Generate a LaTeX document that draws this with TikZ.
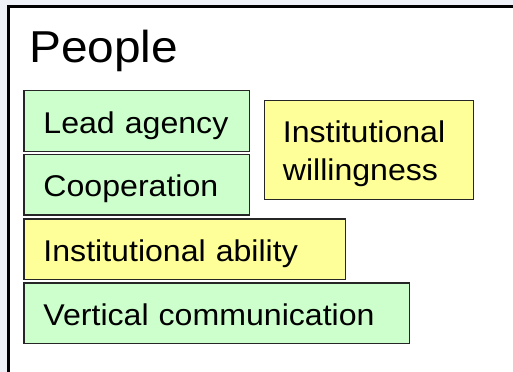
\documentclass[tikz,border=0pt]{standalone}
\usepackage{fontspec}
\setmainfont[FakeStretch=1.07]{Liberation Sans}
\definecolor{gfill}{HTML}{CCFFCC}
\definecolor{yfill}{HTML}{FFFF99}
\definecolor{bgstrip}{HTML}{EEF2F8}
\begin{document}
\begin{tikzpicture}[x=1bp,y=-1bp,
  box/.style={draw=black!85, line width=1.3bp, anchor=north west,
    inner ysep=0pt, inner xsep=19.5bp, text height=24bp, text depth=0pt,
    align=left, font=\fontsize{30bp}{38.3bp}\selectfont},
  greenbox/.style={box, fill=gfill},
  yellowbox/.style={box, fill=yfill},
  frame/.style={line width=3.5bp, draw=black}]
\useasboundingbox (0,0) rectangle (513,371);
\fill[bgstrip] (-5,-5) rectangle (530,390);
\fill[white] (8.3,6.3) rectangle (530,390);
\coordinate (fbl) at (8.3,390);
\coordinate (ftl) at (8.3,6.3);
\coordinate (ftr) at (530,6.3);
\draw[frame] (fbl) -- (ftl) -- (ftr);
\node[font=\fontsize{44.7bp}{50bp}\selectfont, anchor=base west, inner sep=0pt] (title) at (29,62.5) {People};
\node[greenbox, minimum width=225.7bp, minimum height=60.7bp, text width=186.7bp] (lead) at (23.3,90) {Lead agency};
\node[greenbox, minimum width=225.7bp, minimum height=60.3bp, text width=186.7bp] (coop) at (23.3,154) {Cooperation};
\node[yellowbox, minimum width=321.7bp, minimum height=60.4bp, text width=282.7bp] (ability) at (23.3,218.3) {Institutional ability};
\node[greenbox, minimum width=385.7bp, minimum height=60.4bp, text width=346.7bp] (vert) at (23.3,282.3) {Vertical communication};
\node[yellowbox, minimum width=209.3bp, minimum height=99.3bp, inner xsep=18.5bp, text width=172.3bp, text depth=39.3bp] (will) at (263.7,99.7) {Institutional\\willingness};
\end{tikzpicture}
\end{document}
